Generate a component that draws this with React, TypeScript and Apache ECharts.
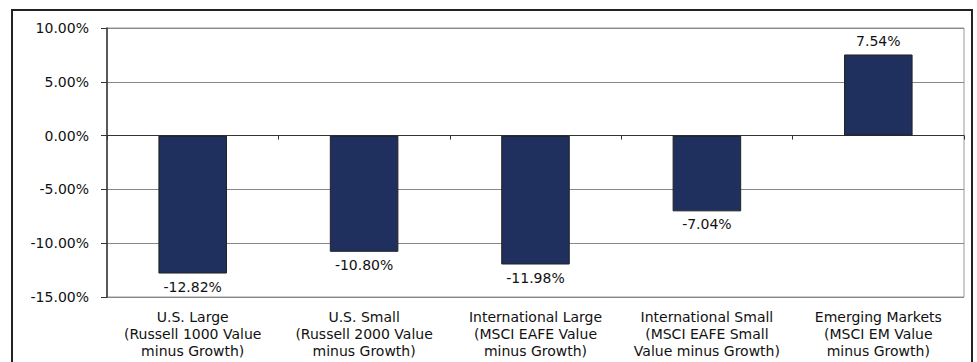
import React, { useEffect, useRef } from "react";
import * as echarts from "echarts";

const categories = [
  "U.S. Large\n(Russell 1000 Value\nminus Growth)",
  "U.S. Small\n(Russell 2000 Value\nminus Growth)",
  "International Large\n(MSCI EAFE Value\nminus Growth)",
  "International Small\n(MSCI EAFE Small\nValue minus Growth)",
  "Emerging Markets\n(MSCI EM Value\nminus Growth)",
];
const values = [-12.82, -10.8, -11.98, -7.04, 7.54];
const yMin = -15;
const yMax = 10;
const yInterval = 5;

const FONT = "DejaVu Sans";
const FS = 14;

export default function App() {
  const ref = useRef<HTMLDivElement>(null);
  useEffect(() => {
    if (!ref.current) return;
    const chart = echarts.init(ref.current, null, { renderer: "svg" });
    chart.setOption({
      animation: false,
      backgroundColor: "#fff",
      textStyle: { fontFamily: FONT },
      grid: {
        left: 107,
        right: 13,
        top: 28,
        bottom: 65,
        show: true,
        borderColor: "#999",
        borderWidth: 1,
        containLabel: false,
      },
      graphic: [
        {
          type: "rect",
          shape: { x: 12, y: 10, width: 960, height: 400 },
          style: { fill: "none", stroke: "#222", lineWidth: 2 },
          silent: true,
        },
      ],
      xAxis: [
        {
          type: "category",
          data: categories,
          position: "bottom",
          axisLine: { show: false, onZero: false },
          axisTick: { show: false },
          axisLabel: {
            interval: 0,
            margin: 11,
            color: "#111",
            fontSize: FS,
            lineHeight: 17,
            fontFamily: FONT,
          },
        },
        {
          type: "category",
          data: categories,
          position: "bottom",
          axisLine: { show: true, onZero: true, lineStyle: { color: "#333", width: 1 } },
          axisTick: { show: true, length: 4, interval: 0, lineStyle: { color: "#333" } },
          axisLabel: { show: false },
        },
      ],
      yAxis: {
        type: "value",
        min: yMin,
        max: yMax,
        interval: yInterval,
        axisLine: { show: true, lineStyle: { color: "#333", width: 1.5 } },
        axisTick: { show: true, length: 6, lineStyle: { color: "#333" } },
        splitLine: { show: true, lineStyle: { color: "#888", width: 1 } },
        axisLabel: {
          margin: 18,
          color: "#111",
          fontSize: FS,
          fontFamily: FONT,
          formatter: (v: number) => v.toFixed(2) + "%",
        },
      },
      series: [
        {
          type: "bar",
          xAxisIndex: 0,
          barWidth: "40%",
          data: values.map((v) => ({
            value: v,
            label: { position: v < 0 ? "bottom" : "top" },
          })),
          itemStyle: { color: "#1f305e", borderColor: "#222", borderWidth: 1 },
          label: {
            show: true,
            distance: 6,
            color: "#111",
            fontSize: FS,
            fontFamily: FONT,
            formatter: (p: any) => Number(p.value).toFixed(2) + "%",
          },
        },
      ],
    });
    return () => chart.dispose();
  }, []);
  return (
    <div
      ref={ref}
      style={{ position: "absolute", left: 0, top: 0, width: 977, height: 362 }}
    />
  );
}
